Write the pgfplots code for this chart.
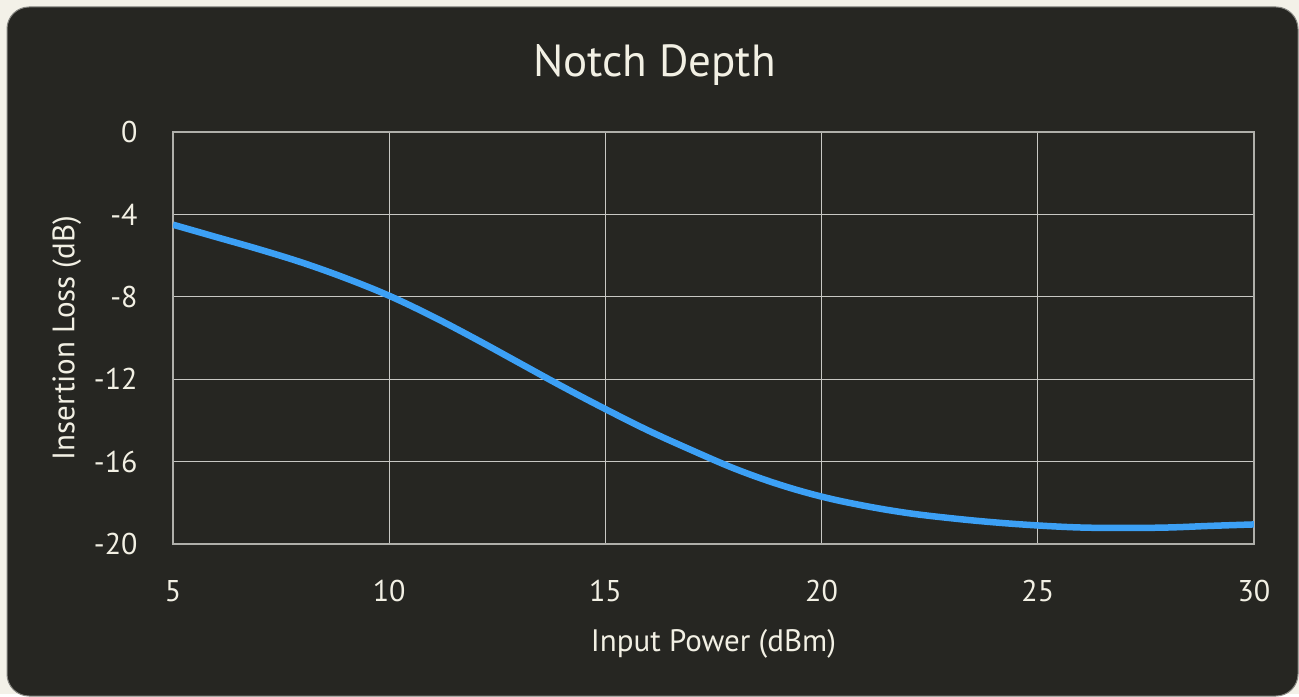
\documentclass[border=0pt]{standalone}
\usepackage{fontspec}
\setmainfont{PT Sans}
\usepackage{pgfplots}
\pgfplotsset{compat=1.18}
\definecolor{bgout}{RGB}{243,241,232}
\definecolor{card}{RGB}{38,38,34}
\definecolor{txt}{RGB}{242,240,228}
\definecolor{gridc}{RGB}{200,200,196}
\definecolor{boxc}{RGB}{175,175,170}
\definecolor{curve}{RGB}{60,160,245}
\begin{document}
\begin{tikzpicture}[x=1pt,y=1pt]
\fill[bgout] (0,0) rectangle (1299,694);
\fill[card, draw=boxc!70!card, line width=1pt, rounded corners=22pt] (7,-2) rectangle (1298,687);
\begin{axis}[
  at={(173pt,150pt)}, anchor=south west,
  scale only axis, width=1081pt, height=412pt,
  xmin=5, xmax=30, ymin=-20, ymax=0,
  xtick={5,10,15,20,25,30},
  ytick={-20,-16,-12,-8,-4,0},
  major tick length=0pt,
  grid=major,
  major grid style={gridc, line width=1.2pt},
  axis line style={boxc, line width=1.5pt},
  /pgf/number format/assume math mode=true,
  ticklabel style={font=\fontsize{30}{33}\selectfont, text=txt},
  yticklabel style={xshift=-32pt},
  xticklabel style={yshift=-33pt},
  xlabel={Input Power (dBm)},
  ylabel={Insertion Loss (dB)},
  label style={font=\fontsize{31}{34}\selectfont, text=txt},
  xlabel style={yshift=-20pt},
  ylabel style={yshift=6pt},
  title={Notch Depth},
  title style={font=\fontsize{45}{48}\selectfont, text=txt, yshift=37pt, xshift=-59pt},
]
\addplot[curve, line width=6.5pt, smooth, tension=0.6] coordinates {
(5,-4.5) (6,-5.1) (7,-5.7) (8,-6.35) (9,-7.1) (10,-7.95) (11,-8.95) (12,-10.05)
(13,-11.2) (14,-12.35) (15,-13.45) (16,-14.5) (17,-15.45) (18,-16.35) (19,-17.1)
(20,-17.7) (21,-18.15) (22,-18.5) (23,-18.75) (24,-18.95) (25,-19.1) (26,-19.2)
(27,-19.22) (28,-19.2) (29,-19.12) (30,-19.05)
};
\end{axis}
\end{tikzpicture}
\end{document}
